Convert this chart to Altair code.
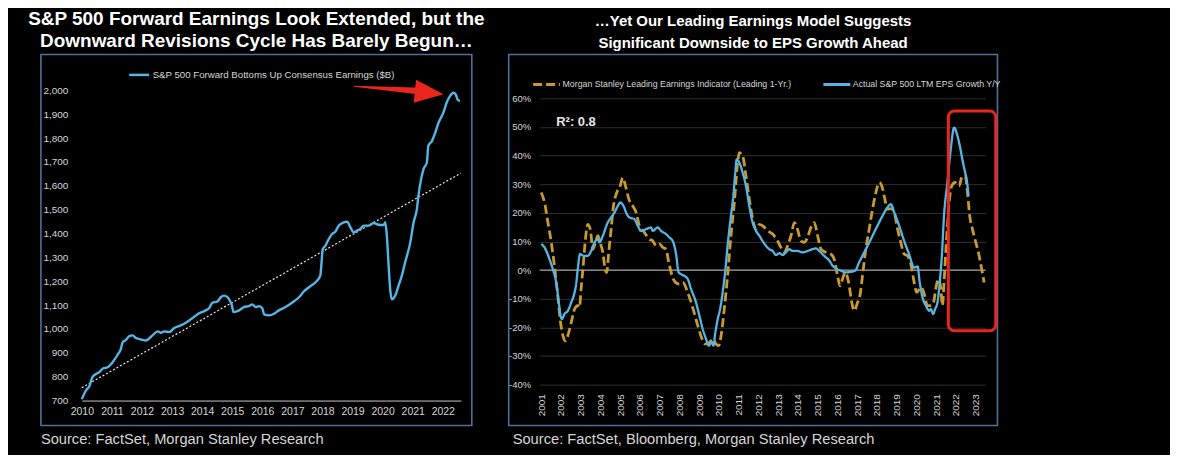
import altair as alt
import pandas as pd

# ---------------- data ----------------
left_title = ["S&P 500 Forward Earnings Look Extended, but the",
              "Downward Revisions Cycle Has Barely Begun\u2026"]
right_title = ["\u2026Yet Our Leading Earnings Model Suggests",
               "Significant Downside to EPS Growth Ahead"]
left_source = "Source: FactSet, Morgan Stanley Research"
right_source = "Source: FactSet, Bloomberg, Morgan Stanley Research"
left_series = "S&P 500 Forward Bottoms Up Consensus Earnings ($B)"
lead_series = "Morgan Stanley Leading Earnings Indicator (Leading 1-Yr.)"
actual_series = "Actual S&P 500 LTM EPS Growth Y/Y"

left_years = [2010.0, 2010.14, 2010.25, 2010.36, 2010.59, 2010.7, 2010.86, 2011.03, 2011.19, 2011.3,
              2011.36, 2011.45, 2011.52, 2011.58, 2011.69, 2011.8, 2011.97, 2012.13, 2012.35, 2012.52,
              2012.63, 2012.74, 2012.91, 2013.07, 2013.29, 2013.46, 2013.68, 2013.9, 2014.12, 2014.23,
              2014.34, 2014.51, 2014.62, 2014.73, 2014.84, 2014.9, 2014.99, 2015.04, 2015.23, 2015.39,
              2015.56, 2015.67, 2015.78, 2015.89, 2016.0, 2016.06, 2016.22, 2016.39, 2016.55, 2016.77,
              2016.99, 2017.22, 2017.38, 2017.55, 2017.77, 2017.93, 2017.97, 2018.01, 2018.1, 2018.21,
              2018.32, 2018.43, 2018.54, 2018.71, 2018.82, 2018.93, 2019.04, 2019.15, 2019.26, 2019.37,
              2019.54, 2019.7, 2019.87, 2020.03, 2020.09, 2020.14, 2020.2, 2020.25, 2020.31, 2020.42,
              2020.53, 2020.64, 2020.75, 2020.92, 2021.03, 2021.14, 2021.19, 2021.28, 2021.36, 2021.47,
              2021.52, 2021.64, 2021.75, 2021.86, 2022.02, 2022.13, 2022.24, 2022.35, 2022.43, 2022.5,
              2022.57]
left_values = [706, 743, 760, 800, 820, 834, 840, 862, 892, 917,
               945, 952, 962, 970, 973, 962, 956, 952, 973, 990,
               984, 990, 987, 1004, 1015, 1026, 1046, 1066, 1078, 1087,
               1110, 1115, 1133, 1140, 1133, 1124, 1099, 1071, 1078, 1092,
               1096, 1103, 1092, 1096, 1087, 1061, 1057, 1064, 1078, 1092,
               1110, 1133, 1157, 1175, 1196, 1224, 1280, 1335, 1349, 1377,
               1398, 1408, 1433, 1447, 1450, 1426, 1405, 1412, 1419, 1433,
               1433, 1444, 1437, 1436, 1447, 1391, 1266, 1168, 1124, 1140,
               1182, 1224, 1280, 1363, 1447, 1503, 1558, 1628, 1670, 1698,
               1767, 1788, 1823, 1865, 1907, 1949, 1976, 1990, 1983, 1960,
               1956]
trend_years = [2010.0, 2022.6]
trend_values = [754, 1653]
left_ticks_x = list(range(2010, 2023))
left_ticks_y = list(range(700, 2001, 100))
arrow_years = [2019.05, 2021.3]
arrow_values = [2017, 1996]
arrow_width = [1, 7]
arrow_head_year = [2021.55]
arrow_head_value = [1990]

lead_years = [2001.0, 2001.17, 2001.34, 2001.51, 2001.67, 2001.84, 2001.98, 2002.1, 2002.21, 2002.35,
              2002.52, 2002.69, 2002.85, 2002.94, 2003.02, 2003.14, 2003.24, 2003.36, 2003.5, 2003.61,
              2003.75, 2003.87, 2003.98, 2004.12, 2004.24, 2004.32, 2004.42, 2004.54, 2004.66, 2004.83,
              2005.0, 2005.13, 2005.27, 2005.44, 2005.64, 2005.81, 2005.97, 2006.23, 2006.48, 2006.65,
              2006.82, 2006.99, 2007.16, 2007.32, 2007.46, 2007.63, 2007.8, 2008.0, 2008.17, 2008.42,
              2008.67, 2008.93, 2009.15, 2009.31, 2009.52, 2009.72, 2009.85, 2009.99, 2010.11, 2010.27,
              2010.44, 2010.61, 2010.78, 2010.95, 2011.03, 2011.2, 2011.37, 2011.54, 2011.71, 2011.88,
              2012.05, 2012.21, 2012.47, 2012.72, 2012.97, 2013.14, 2013.31, 2013.48, 2013.65, 2013.82,
              2013.98, 2014.15, 2014.32, 2014.49, 2014.66, 2014.83, 2015.0, 2015.17, 2015.42, 2015.67,
              2015.84, 2016.01, 2016.13, 2016.26, 2016.4, 2016.57, 2016.73, 2016.85, 2017.02, 2017.14,
              2017.27, 2017.44, 2017.61, 2017.78, 2017.95, 2018.12, 2018.25, 2018.37, 2018.54, 2018.71,
              2018.88, 2019.05, 2019.21, 2019.38, 2019.55, 2019.72, 2019.89, 2020.02, 2020.23, 2020.4,
              2020.56, 2020.73, 2020.87, 2020.98, 2021.12, 2021.24, 2021.32, 2021.4, 2021.52, 2021.66,
              2021.79, 2021.96, 2022.16, 2022.33, 2022.47, 2022.59, 2022.7, 2022.84, 2023.01, 2023.18,
              2023.31, 2023.43]
lead_values = [27.1, 23.6, 16.6, 9.7, 1.5, -9.0, -18.3, -22.9, -24.7, -22.9,
               -18.3, -13.6, -12.4, -13.0, -6.6, 2.7, 10.8, 16.0, 13.7, 7.3,
               9.7, 12.0, 9.7, 6.2, 0.3, -0.8, 6.2, 14.3, 22.4, 27.1,
               29.4, 32.3, 29.4, 24.8, 22.4, 20.1, 15.5, 13.1, 10.8, 10.2,
               8.5, 9.1, 7.9, 7.3, 2.7, -2.0, -4.3, -4.9, -4.3, -7.8,
               -13.0, -19.4, -24.1, -25.8, -25.2, -24.1, -25.8, -26.4, -22.9, -13.6,
               -2.0, 12.0, 23.6, 37.6, 41.0, 39.9, 32.9, 24.8, 17.8, 14.3,
               16.0, 15.5, 13.7, 12.6, 10.2, 7.9, 6.2, 8.5, 12.0, 16.6,
               14.3, 10.2, 9.7, 11.4, 14.9, 16.6, 12.0, 7.3, 6.2, 5.6,
               3.8, -2.0, -5.5, -3.1, -0.8, -4.3, -11.3, -14.2, -11.3, -9.0,
               -2.0, 7.3, 14.3, 21.3, 27.1, 30.6, 29.4, 25.9, 21.3, 21.5,
               20.1, 14.3, 9.7, 5.6, 5.0, 2.1, -4.3, -7.8, -6.0, -8.4,
               -12.4, -12.4, -11.3, -6.6, -3.1, -6.6, -12.4, -4.3, 9.7, 23.6,
               29.4, 30.6, 29.4, 32.9, 32.9, 27.1, 19.0, 14.3, 9.7, 5.0,
               0.3, -4.3]
actual_years = [2001.0, 2001.17, 2001.42, 2001.59, 2001.76, 2001.89, 2001.98, 2002.05, 2002.18, 2002.35,
                2002.52, 2002.69, 2002.77, 2002.85, 2002.97, 2003.14, 2003.36, 2003.53, 2003.7, 2003.87,
                2003.95, 2004.12, 2004.37, 2004.54, 2004.71, 2004.88, 2005.0, 2005.17, 2005.3, 2005.47,
                2005.72, 2005.89, 2006.06, 2006.31, 2006.56, 2006.65, 2006.9, 2007.07, 2007.32, 2007.49,
                2007.66, 2007.83, 2007.96, 2008.08, 2008.25, 2008.42, 2008.59, 2008.84, 2009.01, 2009.18,
                2009.35, 2009.48, 2009.65, 2009.72, 2009.82, 2009.94, 2010.06, 2010.19, 2010.33, 2010.44,
                2010.61, 2010.73, 2010.83, 2010.9, 2011.03, 2011.2, 2011.37, 2011.54, 2011.71, 2011.88,
                2012.05, 2012.21, 2012.38, 2012.55, 2012.72, 2012.89, 2013.06, 2013.23, 2013.39, 2013.56,
                2013.73, 2013.98, 2014.24, 2014.49, 2014.74, 2014.91, 2015.08, 2015.33, 2015.59, 2015.76,
                2015.92, 2016.18, 2016.43, 2016.68, 2016.9, 2017.1, 2017.27, 2017.53, 2017.78, 2018.03,
                2018.29, 2018.54, 2018.71, 2018.88, 2019.13, 2019.38, 2019.63, 2019.89, 2020.06, 2020.17,
                2020.31, 2020.48, 2020.65, 2020.73, 2020.85, 2020.95, 2021.07, 2021.15, 2021.29, 2021.4,
                2021.57, 2021.74, 2021.91, 2022.08, 2022.2, 2022.33, 2022.47, 2022.55, 2022.64]
actual_values = [9.1, 7.9, 3.8, 0.3, -4.3, -11.3, -15.9, -17.1, -15.3, -14.2,
                 -11.3, -7.8, -4.9, 0.3, 5.6, 5.0, 5.0, 6.7, 9.7, 10.8,
                 9.7, 12.0, 16.6, 18.4, 20.1, 22.4, 23.6, 22.4, 20.1, 18.4,
                 17.8, 15.5, 13.7, 14.3, 14.9, 13.7, 14.9, 13.7, 12.6, 11.4,
                 10.2, 5.6, -0.8, -1.4, -2.0, -3.1, -6.6, -11.3, -15.9, -20.6,
                 -24.1, -26.4, -25.2, -26.4, -21.7, -17.1, -13.6, -7.8, 0.3, 8.5,
                 19.0, 25.9, 34.1, 38.7, 37.6, 34.1, 29.4, 22.4, 16.6, 13.7,
                 12.0, 10.2, 8.5, 7.3, 6.7, 5.3, 5.9, 5.3, 6.2, 7.3,
                 6.7, 6.7, 6.2, 6.7, 7.3, 7.6, 6.7, 5.0, 3.3, 1.5,
                 0.6, -0.2, -0.8, -0.6, -0.2, 2.7, 5.0, 8.5, 12.0, 15.5,
                 19.0, 21.9, 23.0, 20.1, 15.5, 10.2, 5.6, 0.9, 1.3, -4.3,
                 -9.5, -12.4, -14.2, -13.6, -15.3, -13.6, -11.3, -6.6, 5.0, 19.0,
                 30.6, 42.2, 49.8, 46.9, 43.4, 38.7, 34.1, 31.7, 25.9]
right_ticks_x = list(range(2001, 2024))
right_ticks_y = list(range(-40, 61, 10))
right_x_domain = [2000.92, 2023.5]
r2_label = ["R\u00b2: 0.8"]
r2_year = [2001.76]
r2_value = [51.7]
box_years = [2021.62, 2024.02]
box_values = [55.6, -21.2]

# ---------------- style ----------------
BG = "#000000"
BLUE = "#55b6e6"
GOLD = "#c99a2e"
RED = "#e8261c"
FRAME = "#4c7197"
LABEL = "#d6d6d6"
FONT = "Liberation Sans"

LW, RW, H = 432, 490, 372

# ---------------- left panel ----------------
ldf = pd.DataFrame({"year": left_years, "value": left_values, "series": left_series})
tdf = pd.DataFrame({"year": trend_years, "value": trend_values})
adf = pd.DataFrame({"year": arrow_years, "value": arrow_values, "w": arrow_width})
hdf = pd.DataFrame({"year": arrow_head_year, "value": arrow_head_value})
lsdf = pd.DataFrame({"t": [left_source]})

lx_scale = alt.Scale(domain=[2010, 2022.6], range=[41, 421], nice=False, zero=False)
ly_scale = alt.Scale(domain=[700, 2000], range=[347, 36], nice=False, zero=False)

lx_axis = alt.Axis(values=left_ticks_x, format="d", title=None, grid=False, ticks=False,
                   domain=True, domainColor="#c8c8c8", domainWidth=1, offset=-25,
                   labelPadding=6, labelColor=LABEL, labelFont=FONT, labelFontSize=10.5,
                   labelAngle=0, labelFlush=False, labelOverlap=False)
ly_axis = alt.Axis(values=left_ticks_y, format=",.0f", title=None, grid=False, ticks=False,
                   domain=False, offset=-31, labelPadding=4, labelColor=LABEL,
                   labelFont=FONT, labelFontSize=10, labelOverlap=False)
LX = alt.X("year:Q", scale=lx_scale, axis=lx_axis)
LY = alt.Y("value:Q", scale=ly_scale, axis=ly_axis)

l_trend = alt.Chart(tdf).mark_line(strokeDash=[2, 2], strokeWidth=1.2, color="#e6e6e6").encode(
    x=LX, y=LY)
l_line = alt.Chart(ldf).mark_line(strokeWidth=2.4, interpolate="monotone").encode(
    x=LX, y=LY,
    color=alt.Color("series:N", scale=alt.Scale(domain=[left_series], range=[BLUE]),
                    legend=alt.Legend(title=None, orient="none", legendX=87, legendY=9,
                                      symbolType="stroke", symbolSize=400, symbolStrokeWidth=2.5,
                                      labelColor=LABEL, labelFont=FONT, labelFontSize=9.7,
                                      labelLimit=500, labelOffset=2)),
)
l_arrow = alt.Chart(adf).mark_trail(color=RED).encode(
    x=LX, y=LY,
    size=alt.Size("w:Q", scale=alt.Scale(domain=[1, 7], range=[1, 7]), legend=None))
l_head = alt.Chart(hdf).mark_point(shape="M-1,-0.8L1,0L-1,0.8Z", filled=True, opacity=1,
                                   color=RED, size=841, angle=6).encode(x=LX, y=LY)
l_src = alt.Chart(lsdf).mark_text(align="left", baseline="middle", font=FONT, fontSize=14.7,
                                  color=LABEL).encode(
    x=alt.value(0), y=alt.value(387), text="t:N")

left = alt.layer(l_trend, l_line, l_arrow, l_head, l_src).properties(
    width=LW, height=H,
    title=alt.TitleParams(text=left_title, font=FONT, fontSize=19, fontWeight="bold",
                          color="#ffffff", anchor="middle", lineHeight=23, offset=3))

# ---------------- right panel ----------------
gdf = pd.DataFrame({"year": lead_years, "value": lead_values, "series": lead_series})
bdf_line = pd.DataFrame({"year": actual_years, "value": actual_values, "series": actual_series})
zdf = pd.DataFrame({"year": [right_x_domain[0]], "x2": [right_x_domain[1]], "value": [0]})
r2df = pd.DataFrame({"year": r2_year, "value": r2_value, "t": r2_label})
bdf = pd.DataFrame({"year": [box_years[0]], "x2": [box_years[1]],
                    "value": [box_values[0]], "y2": [box_values[1]]})
rsdf = pd.DataFrame({"t": [right_source]})

rx_scale = alt.Scale(domain=right_x_domain, range=[31, 478], nice=False, zero=False)
ry_scale = alt.Scale(domain=[-40, 60], range=[331, 44], nice=False, zero=False)

rx_axis = alt.Axis(values=right_ticks_x, format="d", title=None, grid=False, ticks=False,
                   domain=False, offset=-37, labelPadding=5, labelAngle=270,
                   labelAlign="right", labelBaseline="middle", labelColor=LABEL,
                   labelFont=FONT, labelFontSize=10, labelOverlap=False, labelFlush=False)
ry_axis = alt.Axis(values=right_ticks_y, labelExpr="datum.value + '%'", title=None,
                   grid=True, gridColor="#2e2e2e", gridWidth=1, ticks=False, domain=False,
                   offset=-26, labelPadding=4, labelColor=LABEL, labelFont=FONT,
                   labelFontSize=9.5, labelOverlap=False)
RX = alt.X("year:Q", scale=rx_scale, axis=rx_axis)
RY = alt.Y("value:Q", scale=ry_scale, axis=ry_axis)

legend_r = alt.Legend(title=None, orient="none", legendX=23, legendY=15,
                      direction="horizontal", columns=2, columnPadding=25,
                      symbolType="stroke", symbolSize=729, symbolStrokeWidth=3,
                      labelColor=LABEL, labelFont=FONT, labelFontSize=8.8, labelLimit=500,
                      labelOffset=1)
series_color = alt.Color("series:N",
                         scale=alt.Scale(domain=[lead_series, actual_series], range=[GOLD, BLUE]),
                         legend=legend_r)
series_dash = alt.StrokeDash("series:N",
                             scale=alt.Scale(domain=[lead_series, actual_series],
                                             range=[[9, 4], [1, 0]]),
                             legend=legend_r)

r_zero = alt.Chart(zdf).mark_rule(color="#a0a0a0", strokeWidth=1.3).encode(
    x=RX, x2="x2:Q", y=RY)
r_gold = alt.Chart(gdf).mark_line(interpolate="monotone", strokeWidth=2.8).encode(
    x=RX, y=RY, color=series_color, strokeDash=series_dash)
r_blue = alt.Chart(bdf_line).mark_line(interpolate="monotone", strokeWidth=2.3).encode(
    x=RX, y=RY, color=series_color, strokeDash=series_dash)
r_text = alt.Chart(r2df).mark_text(align="left", baseline="middle", font=FONT, fontSize=13,
                                   fontWeight="bold", color="#e8e8e8").encode(
    x=RX, y=RY, text="t:N")
r_box = alt.Chart(bdf).mark_rect(filled=False, stroke=RED, strokeWidth=3, cornerRadius=6).encode(
    x=RX, x2="x2:Q", y=RY, y2="y2:Q")
r_src = alt.Chart(rsdf).mark_text(align="left", baseline="middle", font=FONT, fontSize=14.7,
                                  color=LABEL).encode(
    x=alt.value(4), y=alt.value(387), text="t:N")

right = alt.layer(r_zero, r_gold, r_blue, r_text, r_box, r_src).properties(
    width=RW, height=H,
    title=alt.TitleParams(text=right_title, font=FONT, fontSize=15, fontWeight="bold",
                          color="#ffffff", anchor="middle", lineHeight=23, offset=3))

chart = alt.hconcat(left, right, spacing=37, bounds="flush").resolve_scale(
    x="independent", y="independent", color="independent", strokeDash="independent"
).properties(
    background=BG,
    padding={"left": 19, "top": 0, "right": 168, "bottom": 6},
).configure_view(stroke=FRAME, strokeWidth=1.6, fill=BG)

chart.save("out.html", embed_options={"renderer": "svg", "actions": False})
